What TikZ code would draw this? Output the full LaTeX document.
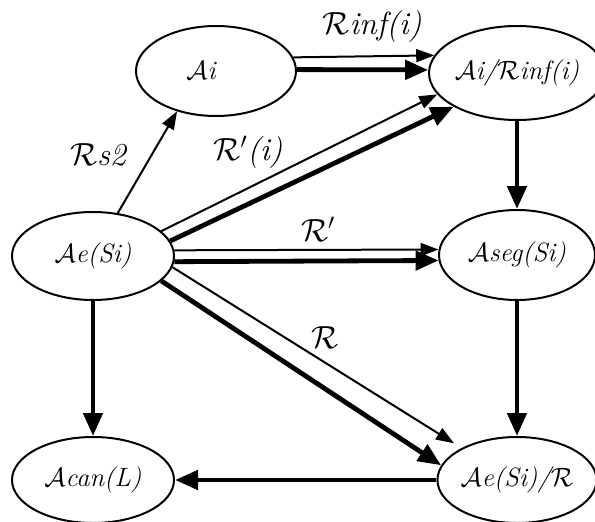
\RequirePackage{fix-cm}
\documentclass[tikz,border=0pt]{standalone}
\usepackage{fontspec}
\usetikzlibrary{positioning,arrows.meta,shapes.geometric}
\newlength{\lwidth}
\setlength{\lwidth}    {2pt}

\tikzset{
  state/.style   ={draw,ellipse,line width=\lwidth,inner sep=0pt,
                   font=\fontsize{26.5}{30}\selectfont\itshape},
  thinarr/.style ={line width=\lwidth,-{Triangle[length=18pt,width=13pt]}},
  thickarr/.style={line width=2.4\lwidth,-{Triangle[length=23pt,width=19pt]}},
  lbl/.style     ={font=\fontsize{32}{36}\selectfont\itshape}
}

\begin{document}
\begin{tikzpicture}[x=1pt,y=-1pt]
  \useasboundingbox (0,0) rectangle (595,522);

  %% states
  %% ------------------------------------
  \node[state,minimum width=160pt,minimum height=90pt] (ai)   at (216,71)
       {$\mathcal{A}$i\hspace*{30pt}};
  \node[state,minimum width=156pt,minimum height=94pt] (air)  at (517,73)
       {$\mathcal{A}$i/$\mathcal{R}$inf(i)};
  \node[state,minimum width=162pt,minimum height=88pt] (ae)   at (93,256)
       {$\mathcal{A}$e(Si)};
  \node[state,minimum width=156pt,minimum height=90pt] (aseg) at (517,255)
       {$\mathcal{A}$seg(Si)};
  \node[state,minimum width=162pt,minimum height=86pt] (acan) at (93,480)
       {$\mathcal{A}$can(L)};
  \node[state,minimum width=158pt,minimum height=86pt] (aer)  at (517,480)
       {$\mathcal{A}$e(Si)/$\mathcal{R}$};

  %% double transitions
  %% ------------------------------------
  \draw[thinarr]  (ai.10)  -- (air.168);
  \draw[thickarr] (ai.1)   -- (air.178);
  \draw[thinarr]  (ae.20)  -- (air.195);
  \draw[thickarr] (ae.11)  -- (air.208);
  \draw[thinarr]  (ae.4)   -- (aseg.176);
  \draw[thickarr] (ae.-4)  -- (aseg.184);
  \draw[thinarr,shorten >=9pt] (ae.-8) -- (aer.150);
  \draw[thickarr] (ae.-20) -- (aer.169);

  %% single transitions
  %% ------------------------------------
  \draw[thinarr]  (ae.60)     -- (ai.226);
  \draw[thickarr] (air.south) -- (aseg.north);
  \draw[thickarr] (aseg.south)-- (aer.north);
  \draw[thickarr] (ae.south)  -- (acan.north);
  \draw[thickarr] (aer.west)  -- (acan.east);

  %% labels
  %% ------------------------------------
  \node[lbl] (lrinf) at (372,27)  {$\mathcal{R}$inf(i)};
  \node[lbl] (lrs)   at (98,155)  {$\mathcal{R}$s2};
  \node[lbl] (lrpi)  at (248,152) {$\mathcal{R}'$(i)};
  \node[lbl] (lrp)   at (318,229) {$\mathcal{R}'$};
  \node[lbl] (lr)    at (325,338) {$\mathcal{R}$};

\end{tikzpicture}
\end{document}
